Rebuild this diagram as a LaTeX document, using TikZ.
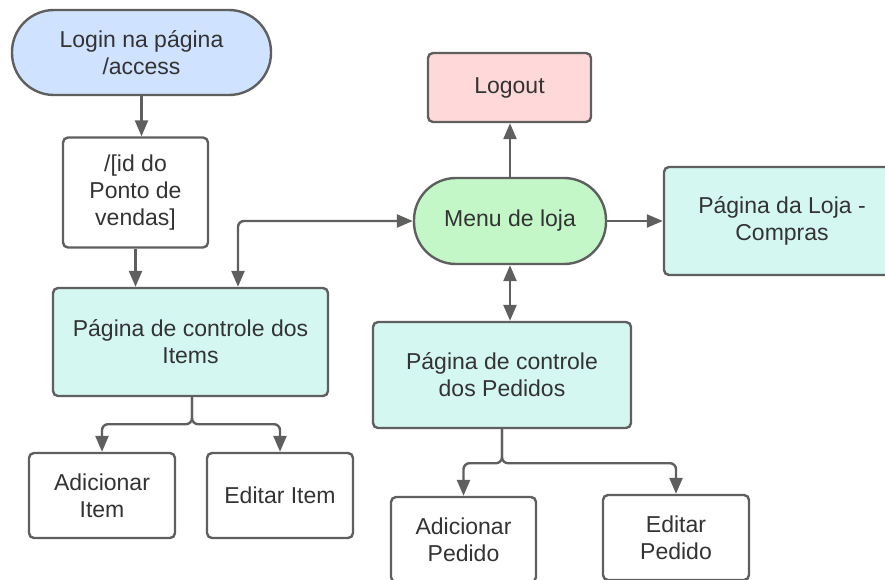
\documentclass[tikz,border=0pt]{standalone}
\usepackage{fontspec}
\setmainfont{Liberation Sans}
\usetikzlibrary{arrows.meta}
\definecolor{bord}{HTML}{5F5F5F}
\definecolor{txt}{HTML}{333333}
\definecolor{loginfill}{HTML}{CFE2FF}
\definecolor{menufill}{HTML}{C3F7C8}
\definecolor{logoutfill}{HTML}{FFD9D9}
\definecolor{tealfill}{HTML}{D4F7F1}
\begin{document}
\begin{tikzpicture}[x=1pt,y=-1pt,
  box/.style={draw=bord, line width=2.4pt, rounded corners=5pt, align=center, text=txt,
    font=\fontsize{23}{27}\selectfont, inner sep=0pt},
  tip/.tip={Triangle[length=16pt,width=13pt]},
  conn/.style={draw=bord, line width=2.4pt, rounded corners=6pt, -tip},
  conn2/.style={draw=bord, line width=2.4pt, rounded corners=6pt, tip-tip}]
\useasboundingbox (0,0) rectangle (885,579);
\clip (0,0) rectangle (885,579);
\node[box, fill=loginfill, rounded corners=42pt, minimum width=259pt, minimum height=85pt] (login) at (141.5,52.5) {Login na página\\/access};
\node[box, fill=white, minimum width=145pt, minimum height=110pt] (id) at (135.5,192.5) {/[id do\\Ponto de\\vendas]};
\node[box, fill=tealfill, minimum width=275pt, minimum height=108pt] (items) at (190.5,342) {Página de controle dos\\Items};
\node[box, fill=white, minimum width=146pt, minimum height=85pt] (additem) at (102,495.5) {Adicionar\\Item};
\node[box, fill=white, minimum width=146pt, minimum height=85pt] (edititem) at (280,495.5) {Editar Item};
\node[box, fill=logoutfill, minimum width=163pt, minimum height=69pt] (logout) at (509.5,87.5) {Logout};
\node[box, fill=menufill, rounded corners=42pt, minimum width=192pt, minimum height=86pt] (menu) at (510,221) {Menu de loja};
\node[box, fill=tealfill, minimum width=236pt, minimum height=108pt] (loja) at (782,221) {Página da Loja -\\Compras};
\node[box, fill=tealfill, minimum width=258pt, minimum height=106pt] (pedidos) at (502,375) {Página de controle\\dos Pedidos};
\node[box, fill=white, minimum width=145pt, minimum height=85pt] (addped) at (463.5,539.5) {Adicionar\\Pedido};
\node[box, fill=white, minimum width=146pt, minimum height=85pt] (editped) at (676,537.5) {Editar\\Pedido};
\draw[conn] (login.south) -- (login.south |- id.north);
\draw[conn] (id.south) -- (id.south |- items.north);
\draw[conn2] ([xshift=47.5pt]items.north) |- (menu.west);
\draw[conn] (menu.north) -- (menu.north |- logout.south);
\draw[conn] (menu.east) -- (loja.west);
\draw[conn2] (menu.south) -- (menu.south |- pedidos.north);
\draw[conn] ([xshift=1.5pt]items.south) -- ([xshift=1.5pt,yshift=-27pt]items.south) -| (additem.north);
\draw[conn] ([xshift=1.5pt]items.south) -- ([xshift=1.5pt,yshift=-27pt]items.south) -| (edititem.north);
\draw[conn] (pedidos.south) -- ([yshift=-34pt]pedidos.south) -| (addped.north);
\draw[conn] (pedidos.south) -- ([yshift=-34pt]pedidos.south) -| (editped.north);
\end{tikzpicture}
\end{document}
